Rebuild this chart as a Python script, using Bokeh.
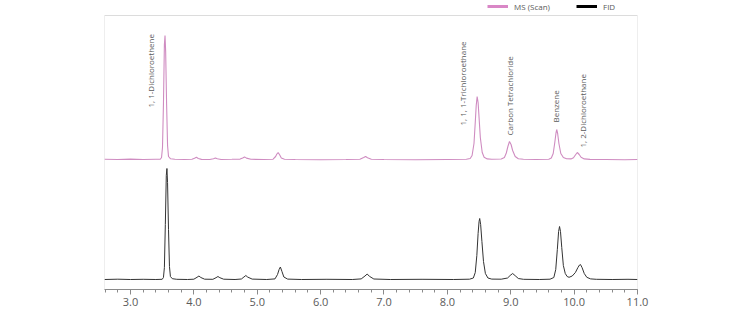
import numpy as np
from bokeh.plotting import figure
from bokeh.models import Range1d, Legend, LegendItem, ColumnDataSource, FixedTicker, BoxAnnotation
from bokeh.core.properties import value
from bokeh.embed import file_html
from bokeh.resources import INLINE

# ---- data (retention time in min, detector signal in arbitrary units) ----
ms_time = [2.59, 2.80, 3.00, 3.20, 3.40, 3.47, 3.49, 3.505, 3.52, 3.535, 3.545, 3.555, 3.57, 3.585, 3.60, 3.63, 3.70,
           3.85, 3.97, 4.01, 4.04, 4.07, 4.12, 4.25, 4.31, 4.34, 4.37, 4.43, 4.60, 4.73, 4.77, 4.80, 4.83, 4.90,
           5.10, 5.25, 5.29, 5.31, 5.33, 5.355, 5.38, 5.43, 5.60, 6.00, 6.40, 6.62, 6.68, 6.71, 6.74, 6.80,
           7.00, 7.50, 8.00, 8.30, 8.36, 8.39, 8.42, 8.44, 8.455, 8.47, 8.485, 8.50, 8.52, 8.55, 8.58, 8.63, 8.70,
           8.85, 8.90, 8.93, 8.955, 8.98, 9.005, 9.03, 9.07, 9.12, 9.20, 9.40,
           9.60, 9.64, 9.67, 9.695, 9.715, 9.725, 9.74, 9.76, 9.79, 9.83, 9.88,
           9.95, 9.99, 10.02, 10.05, 10.08, 10.11, 10.16, 10.25, 10.50, 10.80, 11.00]
ms_signal = [0.3, 0.0, 0.4, 0.0, 0.3, 0.2, 2, 12, 55, 115, 124, 108, 55, 14, 3, 0.8, 0.2,
             0.0, 0.2, 1.2, 2.2, 1.0, 0.1, 0.0, 0.8, 1.6, 0.8, 0.0, 0.2, 0.4, 1.6, 2.6, 1.4, 0.2,
             0.0, 0.3, 3.0, 5.5, 7.0, 4.5, 1.5, 0.3, 0.0, -0.3, 0.0, 0.3, 2.0, 3.0, 1.8, 0.3,
             0.0, -0.3, 0.0, 0.2, 1.0, 4.0, 16, 37, 54, 63, 57, 42, 22, 7, 2.2, 0.6, 0.3,
             0.5, 2.0, 6.5, 13, 18, 15, 9, 3, 0.8, 0.2, 0.0,
             0.3, 1.5, 6, 17, 27, 30, 26, 16, 6, 2, 0.7,
             0.6, 1.8, 4.5, 7.0, 5.0, 2.2, 0.6, 0.1, 0.0, -0.2, 0.0]

fid_time = [2.59, 2.80, 3.00, 3.20, 3.40, 3.50, 3.52, 3.535, 3.55, 3.565, 3.575, 3.585, 3.60, 3.615, 3.63, 3.66, 3.73,
            3.90, 4.00, 4.05, 4.08, 4.11, 4.17, 4.30, 4.35, 4.38, 4.41, 4.47, 4.65, 4.75, 4.79, 4.82, 4.85, 4.92,
            5.15, 5.28, 5.32, 5.345, 5.365, 5.39, 5.42, 5.48, 5.70, 6.10, 6.50, 6.64, 6.70, 6.735, 6.77, 6.84,
            7.10, 7.60, 8.10, 8.35, 8.41, 8.44, 8.465, 8.485, 8.50, 8.51, 8.525, 8.545, 8.57, 8.60, 8.64, 8.70,
            8.85, 8.95, 8.99, 9.03, 9.07, 9.12, 9.20, 9.45,
            9.62, 9.68, 9.71, 9.735, 9.755, 9.77, 9.785, 9.805, 9.83, 9.86, 9.89,
            9.92, 9.97, 10.02, 10.06, 10.085, 10.10, 10.125, 10.16, 10.20, 10.26, 10.35, 10.60, 10.85, 11.00]
fid_signal = [0.0, 0.3, 0.0, 0.2, 0.0, 0.2, 2, 12, 55, 104, 111, 97, 50, 13, 3, 0.8, 0.2,
              0.0, 0.3, 2.2, 3.5, 2.0, 0.3, 0.2, 1.8, 3.0, 1.8, 0.3, 0.0, 0.5, 2.5, 4.0, 2.4, 0.4,
              0.0, 0.6, 5, 10, 12.5, 8, 2.5, 0.4, 0.0, 0.2, 0.0, 0.6, 3.5, 5.5, 3.2, 0.5,
              0.0, 0.2, 0.0, 0.3, 1.5, 7, 24, 46, 58, 61, 55, 38, 18, 6, 1.5, 0.4,
              0.3, 1.5, 4, 6, 3.8, 1.0, 0.2, 0.0,
              0.3, 2, 10, 30, 48, 53, 48, 32, 14, 6, 3,
              2.2, 3.5, 7, 12, 14.5, 15, 12, 6, 2.2, 0.6, 0.2, 0.0, 0.2, 0.0]

ms_offset = 120  # vertical stacking of the MS trace above the FID trace

label_names = ["1, 1-Dichloroethene", "1, 1, 1-Trichloroethane", "Carbon Tetrachloride",
               "Benzene", "1, 2-Dichloroethane"]
label_time = [3.316, 8.237, 8.98, 9.70, 10.13]
label_level = [172, 154, 144, 157, 132]

tick_values = [3, 4, 5, 6, 7, 8, 9, 10, 11]
tick_labels = ["3.0", "4.0", "5.0", "6.0", "7.0", "8.0", "9.0", "10.0", "11.0"]

legend_names = ["MS (Scan)", "FID"]

# ---- styling / layout ----
MS_COLOR = "#cf8cc1"
MS_SWATCH = "#d987c6"
FID_COLOR = "#333333"
TEXT_COLOR = "#5a5a5a"
FRAME_COLOR = "#8a8a8a"
FONT = "Open Sans"
X0, X1 = 2.59, 11.0
Y0, Y_BOX_TOP, Y1 = -10, 264, 279   # box top leaves room for the legend strip

p = figure(width=756, height=313, output_backend="svg", toolbar_location=None,
           x_range=Range1d(X0, X1), y_range=Range1d(Y0, Y1),
           min_border_left=104, min_border_right=119, min_border_top=0, min_border_bottom=24)

p.background_fill_color = "white"
p.border_fill_color = "white"
p.outline_line_color = None
p.xgrid.visible = False
p.ygrid.visible = False
p.yaxis.visible = False

p.add_layout(BoxAnnotation(left=X0, right=X1, bottom=Y0, top=Y_BOX_TOP, fill_alpha=0,
                           line_color=FRAME_COLOR, line_width=1))

ms_y = [v + ms_offset for v in ms_signal]
ms_src = ColumnDataSource(dict(t=ms_time, s=ms_y))
fid_src = ColumnDataSource(dict(t=fid_time, s=fid_signal))
p.line("t", "s", source=ms_src, color=MS_COLOR, line_width=1.1)
p.line("t", "s", source=fid_src, color=FID_COLOR, line_width=1.0)

lab_src = ColumnDataSource(dict(x=label_time, y=label_level, text=label_names))
p.text("x", "y", text="text", source=lab_src, angle=np.pi / 2, text_align="left",
       text_baseline="middle", text_font=value(FONT), text_font_size="8px", text_color=TEXT_COLOR)

minor = [round(2.6 + 0.2 * i, 2) for i in range(43)]
ax = p.xaxis[0]
ax.ticker = FixedTicker(ticks=tick_values, minor_ticks=minor)
ax.major_label_overrides = {v: l for v, l in zip(tick_values, tick_labels)}
ax.axis_line_color = FRAME_COLOR
ax.major_tick_line_color = FRAME_COLOR
ax.minor_tick_line_color = FRAME_COLOR
ax.major_tick_out = 5
ax.major_tick_in = 0
ax.minor_tick_out = 3
ax.minor_tick_in = 0
ax.major_label_standoff = 3
ax.major_label_text_font = FONT
ax.major_label_text_font_size = "11px"
ax.major_label_text_color = TEXT_COLOR

# legend swatches: single-point lines (nothing drawn in the plot, thick swatch in the legend)
r_ms = p.line(ms_time[:1], ms_y[:1], color=MS_SWATCH, line_width=3)
r_fid = p.line(fid_time[:1], fid_signal[:1], color="black", line_width=3)
legend_style = dict(orientation="horizontal", glyph_width=21, glyph_height=8, label_height=12,
                    label_standoff=6, padding=0, margin=0, border_line_color=None,
                    background_fill_alpha=0, label_text_font=FONT, label_text_font_size="8px",
                    label_text_color=TEXT_COLOR)
p.add_layout(Legend(items=[LegendItem(label=legend_names[0], renderers=[r_ms])],
                    location=(383, 277), **legend_style))
p.add_layout(Legend(items=[LegendItem(label=legend_names[1], renderers=[r_fid])],
                    location=(472, 277), **legend_style))

open("out.html", "w").write(file_html(p, INLINE))
